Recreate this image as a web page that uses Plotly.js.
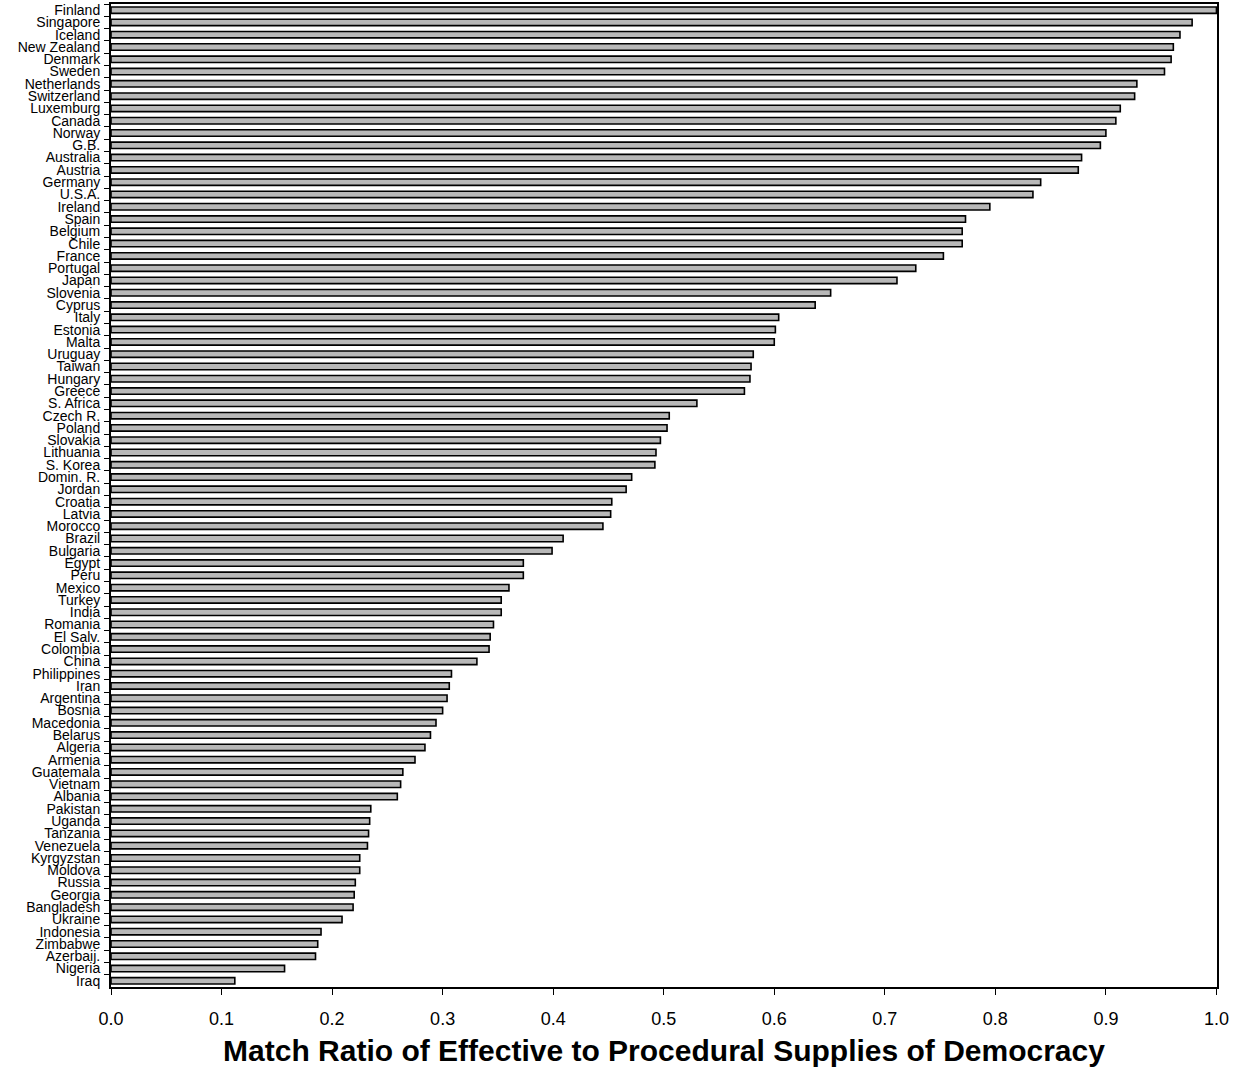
<!DOCTYPE html>
<html>
<head>
<meta charset="utf-8">
<script src="https://cdn.plot.ly/plotly-3.0.1.min.js"></script>
<style>body{margin:0;padding:0;background:#fff;}#chart{width:1241px;height:1068px;}</style>
</head>
<body>
<div id="chart"></div>
<script>
const countries = ["Finland","Singapore","Iceland","New Zealand","Denmark","Sweden","Netherlands","Switzerland","Luxemburg","Canada","Norway","G.B.","Australia","Austria","Germany","U.S.A.","Ireland","Spain","Belgium","Chile","France","Portugal","Japan","Slovenia","Cyprus","Italy","Estonia","Malta","Uruguay","Taiwan","Hungary","Greece","S. Africa","Czech R.","Poland","Slovakia","Lithuania","S. Korea","Domin. R.","Jordan","Croatia","Latvia","Morocco","Brazil","Bulgaria","Egypt","Peru","Mexico","Turkey","India","Romania","El Salv.","Colombia","China","Philippines","Iran","Argentina","Bosnia","Macedonia","Belarus","Algeria","Armenia","Guatemala","Vietnam","Albania","Pakistan","Uganda","Tanzania","Venezuela","Kyrgyzstan","Moldova","Russia","Georgia","Bangladesh","Ukraine","Indonesia","Zimbabwe","Azerbaij.","Nigeria","Iraq"];
const matchRatio = [1.000,0.978,0.967,0.961,0.959,0.953,0.928,0.926,0.913,0.909,0.900,0.895,0.878,0.875,0.841,0.834,0.795,0.773,0.770,0.770,0.753,0.728,0.711,0.651,0.637,0.604,0.601,0.600,0.581,0.579,0.578,0.573,0.530,0.505,0.503,0.497,0.493,0.492,0.471,0.466,0.453,0.452,0.445,0.409,0.399,0.373,0.373,0.360,0.353,0.353,0.346,0.343,0.342,0.331,0.308,0.306,0.304,0.300,0.294,0.289,0.284,0.275,0.264,0.262,0.259,0.235,0.234,0.233,0.232,0.225,0.225,0.221,0.220,0.219,0.209,0.190,0.187,0.185,0.157,0.112];
const xTickVals = [0,0.1,0.2,0.3,0.4,0.5,0.6,0.7,0.8,0.9,1.0];
const xTitle = "Match Ratio of Effective to Procedural Supplies of Democracy";

const trace = {
  type: 'bar',
  orientation: 'h',
  x: matchRatio,
  y: countries,
  marker: {color: '#b8b8b8', line: {color: '#000', width: 1.6}},
  hoverinfo: 'x+y'
};
const layout = {
  width: 1241, height: 1068,
  margin: {l: 111, r: 24, t: 4, b: 81},
  paper_bgcolor: '#fff', plot_bgcolor: '#fff',
  showlegend: false,
  bargap: 0.48,
  font: {family: 'Liberation Sans, Arial, sans-serif', color: '#000'},
  xaxis: {
    range: [0, 1.0005], tickvals: xTickVals, tickformat: '.1f',
    ticks: 'outside', ticklen: 6, tickwidth: 1, tickcolor: '#000',
    ticklabelstandoff: 8,
    showgrid: false, zeroline: false,
    showline: true, linecolor: '#000', linewidth: 2, mirror: true,
    tickfont: {size: 18, color: '#000'},
    title: {text: xTitle, font: {size: 30, color: '#000', family: 'Liberation Sans, Arial, sans-serif', weight: 'bold'}, standoff: 12}
  },
  yaxis: {
    type: 'category', autorange: 'reversed',
    tickmode: 'linear', tick0: 0, dtick: 1,
    tickson: 'boundaries', ticks: 'outside', ticklen: 5, tickwidth: 1, tickcolor: '#000',
    ticklabelstandoff: 6,
    showgrid: false, zeroline: false,
    showline: true, linecolor: '#000', linewidth: 2, mirror: true,
    tickfont: {size: 14, color: '#000'}
  }
};
Plotly.newPlot('chart', [trace], layout, {displayModeBar: false, staticPlot: true});
</script>
</body>
</html>
